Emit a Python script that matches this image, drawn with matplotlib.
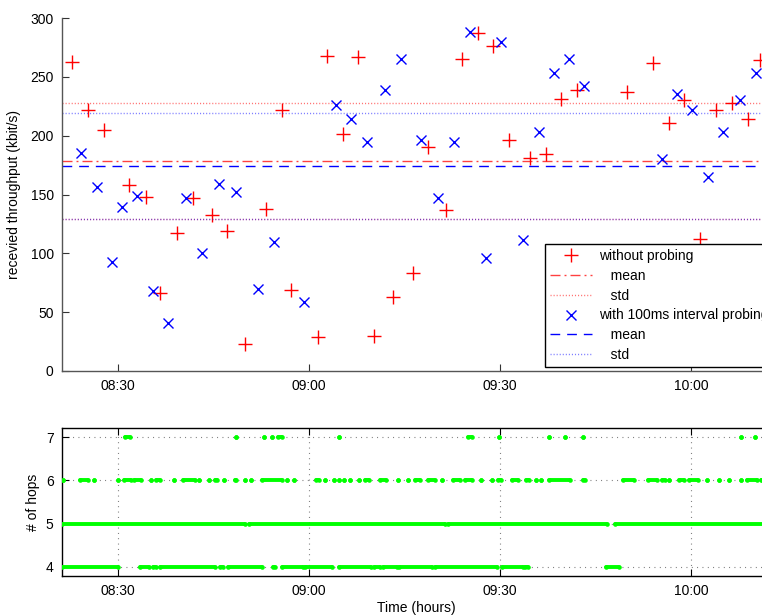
import matplotlib
matplotlib.use("Agg")
import matplotlib.pyplot as plt

plt.rcParams['font.family'] = ['Liberation Sans', 'DejaVu Sans']
plt.rcParams['font.size'] = 10

# ---------------- data (time in minutes after 08:00) ----------------
red_t = [22.82, 25.34, 27.80, 31.78, 34.35, 36.60, 39.27, 41.83, 44.72, 47.17,
         49.95, 53.29, 55.71, 57.13, 61.46, 62.87, 65.39, 67.74, 70.21, 73.19,
         76.34, 78.74, 81.47, 84.03, 86.50, 88.85, 91.46, 94.71, 97.18, 99.63,
         102.05, 109.95, 114.03, 116.59, 118.95, 121.46, 123.88, 126.44, 129.00, 130.84]
red_v = [263, 222, 205, 158, 148, 66, 117, 147, 133, 119,
         23, 138, 222, 69, 29, 268, 201, 267, 30, 63,
         83, 190, 137, 265, 287, 276, 196, 181, 184, 231,
         239, 237, 262, 211, 230, 112, 222, 228, 214, 264]

blue_t = [24.14, 26.65, 29.01, 30.58, 33.03, 35.50, 37.85, 40.68, 43.15, 45.91,
          48.53, 52.04, 54.46, 59.26, 64.19, 66.60, 69.06, 71.94, 74.40, 77.55,
          80.22, 82.73, 85.29, 87.76, 90.11, 93.57, 96.08, 98.44, 100.89, 103.24,
          115.40, 117.76, 120.21, 122.67, 125.08, 127.75, 130.26]
blue_v = [185, 156, 93, 139, 149, 68, 41, 147, 100, 159,
          152, 70, 110, 59, 226, 214, 195, 239, 265, 196,
          147, 195, 288, 96, 280, 111, 203, 253, 265, 242,
          180, 235, 222, 165, 203, 230, 253]

red_mean, red_std = 178.5, 49.0
blue_mean, blue_std = 174.2, 45.3

# hop count observations: runs of consecutive samples (start, end) in minutes
hop4_runs = [(21.16, 30.05), (33.46, 34.92), (35.45, 35.97), (36.60, 45.24), (46.02, 46.54),
             (47.33, 52.57), (54.39, 54.66), (55.71, 59.10), (59.37, 63.57), (64.76, 69.74),
             (70.26, 71.15), (71.67, 73.78), (74.18, 79.27), (79.79, 89.58), (90.27, 93.66),
             (93.93, 94.45), (106.60, 108.69)]
hop5_runs = [(21.16, 49.95), (50.62, 81.36), (81.88, 106.76), (108.06, 132.4)]
hop6_runs = [(21.31, 21.31), (24.03, 25.34), (26.28, 26.28), (30.05, 30.05), (30.94, 31.99),
             (32.51, 33.61), (35.18, 35.18), (35.97, 36.60), (38.80, 38.80), (40.16, 42.09),
             (42.77, 42.77), (44.29, 44.29), (45.24, 45.60), (46.70, 46.70), (48.38, 48.58),
             (49.95, 49.95), (50.84, 50.84), (52.57, 55.81), (56.50, 56.50), (57.69, 57.69),
             (61.10, 61.57), (62.51, 62.51), (63.93, 63.93), (64.76, 64.76), (65.45, 65.45),
             (66.44, 66.44), (67.90, 67.90), (68.80, 69.47), (71.15, 72.05), (74.03, 74.03),
             (75.60, 75.60), (76.65, 77.43), (78.74, 79.79), (80.94, 80.94), (82.67, 83.72),
             (84.50, 85.56), (87.02, 87.02), (88.70, 88.70), (89.64, 90.16), (91.84, 92.88),
             (94.04, 94.56), (95.66, 95.66), (96.39, 96.39), (97.74, 101.00), (103.09, 103.35),
             (109.37, 111.10), (113.29, 114.61), (115.40, 115.92), (116.59, 116.59),
             (118.12, 118.95), (119.74, 121.15), (122.56, 122.56), (124.45, 124.45),
             (125.97, 125.97), (127.85, 127.85), (128.75, 130.32), (130.95, 131.17)]
hop7_runs = [(31.10, 31.88), (48.49, 48.49), (52.98, 52.98), (54.14, 54.14), (55.08, 55.81),
             (64.76, 64.76), (85.02, 85.56), (89.89, 89.89), (97.74, 97.74), (100.16, 100.16),
             (103.09, 103.09), (127.85, 127.85), (130.05, 130.05)]

xticks = [30, 60, 90, 120]
xticklabels = ['08:30', '09:00', '09:30', '10:00']
yticks_top = [0, 50, 100, 150, 200, 250, 300]
yticks_hops = [4, 5, 6, 7]

xlim = (21.2, 132.4)

# ---------------- figure ----------------
W, H = 762, 615
fig = plt.figure(figsize=(W / 100, H / 100), dpi=100)

def rect(l, t, r, b):
    return [l / W, 1 - b / H, (r - l) / W, (b - t) / H]

ax1 = fig.add_axes(rect(62, 18, 770, 371))
ax2 = fig.add_axes(rect(62, 428, 770, 576))

RED, BLUE = '#ff0000', '#0000ff'

ax1.plot(red_t, red_v, linestyle='none', marker='+', ms=9.5, mew=1.0, color=RED,
         label='without probing')
ax1.axhline(red_mean, color=RED, lw=1.0, alpha=0.75, dashes=(7.2, 2.9, 1.4, 2.9),
            label='   mean')
ax1.axhline(red_mean + red_std, color=RED, lw=1.0, alpha=0.55, dashes=(0.8, 1.4),
            label='   std')
ax1.axhline(red_mean - red_std, color=RED, lw=1.0, alpha=0.55, dashes=(0.8, 1.4))
ax1.plot(blue_t, blue_v, linestyle='none', marker='x', ms=7, mew=1.0, color=BLUE,
         label='with 100ms interval probing')
ax1.axhline(blue_mean, color=BLUE, lw=1.0, dashes=(7, 5), label='   mean')
ax1.axhline(blue_mean + blue_std, color=BLUE, lw=1.0, alpha=0.5, dashes=(0.8, 1.4),
            label='   std')
ax1.axhline(blue_mean - blue_std, color=BLUE, lw=1.0, alpha=0.5, dashes=(0.8, 1.4))

ax1.set_xlim(*xlim)
ax1.set_ylim(0, 300)
ax1.set_yticks(yticks_top)
ax1.set_xticks(xticks)
ax1.set_xticklabels(xticklabels)
ax1.set_ylabel('recevied throughput (kbit/s)', labelpad=7)
ax1.spines['top'].set_visible(False)
ax1.spines['right'].set_visible(False)
for s in ('left', 'bottom'):
    ax1.spines[s].set_color('#555555')
    ax1.spines[s].set_linewidth(1.0)
ax1.tick_params(direction='in', length=5, width=0.8, color='#333333', labelsize=10,
                pad=6)

leg = ax1.legend(loc='lower left', bbox_to_anchor=(545 / W, 1 - 367 / H),
                 bbox_transform=fig.transFigure, frameon=True, fancybox=False,
                 edgecolor='black', framealpha=1, fontsize=10, handlelength=3.0,
                 handletextpad=0.55, labelspacing=0.42, borderpad=0.35,
                 borderaxespad=0, numpoints=1)
leg.get_frame().set_linewidth(1.0)

# hops
GREEN = '#00ff00'
for lvl, runs in ((4, hop4_runs), (5, hop5_runs), (6, hop6_runs), (7, hop7_runs)):
    for s, e in runs:
        ax2.plot([s, e], [lvl, lvl], '-o', color=GREEN, lw=2.8, ms=3.3, mec='none',
                 solid_capstyle='round', zorder=3)

ax2.set_xlim(*xlim)
ax2.set_ylim(3.79, 7.21)
ax2.set_yticks(yticks_hops)
ax2.set_xticks(xticks)
ax2.set_xticklabels(xticklabels)
ax2.set_ylabel('# of hops')
ax2.set_xlabel('Time (hours)', labelpad=2)
ax2.grid(True, color='#444444', lw=0.8, dashes=(0.8, 4.0), alpha=0.8)
ax2.set_axisbelow(True)
for s in ax2.spines.values():
    s.set_linewidth(1.0)
ax2.tick_params(direction='in', length=5, width=0.8, top=True, right=True,
                labelsize=10, pad=6)

fig.savefig('out.png', dpi=100)
